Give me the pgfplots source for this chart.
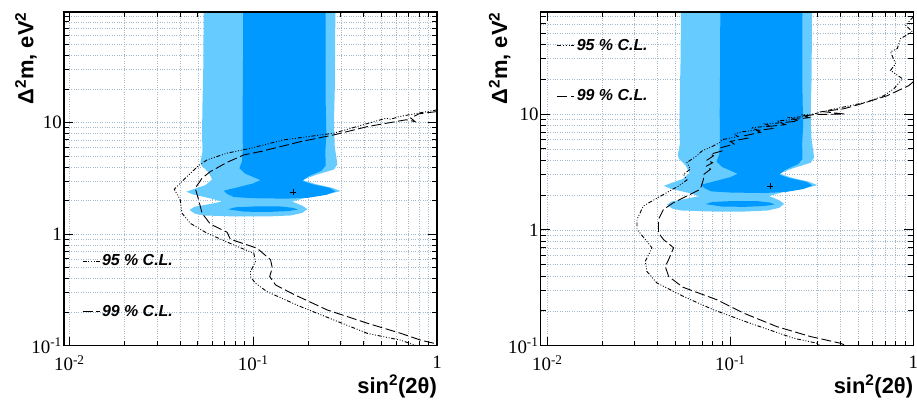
\documentclass[border=0pt]{standalone}
\usepackage{fontspec}
\setmainfont{Liberation Serif}
\newfontfamily\helv{Liberation Sans}
\usepackage{pgfplots}
\usepackage{pgfplotstable}
\pgfplotsset{compat=1.18}

\definecolor{lightreg}{RGB}{102,204,255}
\definecolor{darkreg}{RGB}{0,153,255}
\definecolor{gridc}{RGB}{165,185,205}

\pgfplotstableread{
x y
0.0538 100
0.0535 30
0.0530 15
0.0527 8
0.0530 5.5
0.0516 4.4
0.0525 4.1
0.0570 3.6
0.0598 3.1
0.0550 2.75
0.0470 2.52
0.0433 2.40
0.0470 2.27
0.0580 2.10
0.0678 1.96
0.0580 1.86
0.0480 1.76
0.0451 1.65
0.0480 1.53
0.0540 1.47
0.0800 1.44
0.1200 1.44
0.1600 1.47
0.1850 1.55
0.1970 1.68
0.1850 1.80
0.1630 1.96
0.2000 2.15
0.2600 2.30
0.2990 2.43
0.2700 2.60
0.2200 2.80
0.1850 3.06
0.2200 3.40
0.2750 3.80
0.2870 4.20
0.2850 4.63
0.2780 6
0.2750 10
0.2780 20
0.2800 100
}\lightregion

\pgfplotstableread{
x y
0.0882 100
0.0880 30
0.0875 10
0.0878 6
0.0870 4.5
0.0842 3.9
0.0900 3.5
0.1096 3.05
0.1000 2.85
0.0800 2.60
0.0692 2.45
0.0720 2.30
0.0784 2.15
0.1000 2.10
0.1500 2.08
0.2000 2.12
0.2500 2.25
0.2810 2.42
0.2600 2.60
0.2100 2.80
0.1850 3.00
0.2000 3.30
0.2350 3.70
0.2480 4.10
0.2470 5.50
0.2500 8
0.2480 15
0.2480 100
}\darkregion

\pgfplotstableread{
x y
0.0730 1.67
0.0800 1.74
0.1000 1.77
0.1400 1.77
0.1650 1.72
0.1750 1.66
0.1550 1.61
0.1200 1.58
0.0900 1.59
}\blob

\pgfplotstableread{
x y
1.0 13.0
0.80 12.2
0.62 11.3
0.56 10.7
0.53 10.95
0.40 9.6
0.275 8.04
0.1468 7.0
0.0967 5.89
0.0721 5.32
0.0561 4.63
0.0505 4.12
0.0436 3.28
0.0372 2.53
0.0401 2.03
0.0410 1.54
0.0455 1.25
0.0561 1.02
0.0784 0.80
0.1008 0.674
0.1029 0.567
0.0967 0.461
0.0967 0.416
0.1029 0.363
0.119 0.305
0.181 0.224
0.275 0.170
0.418 0.129
0.636 0.112
0.751 0.1015
0.78 0.1
}\leftA

\pgfplotstableread{
x y
1.0 12.55
0.80 12.0
0.72 11.0
0.76 10.2
0.68 10.6
0.418 9.2
0.275 7.76
0.181 6.75
0.1096 5.5
0.0889 5.13
0.0721 4.40
0.0585 3.64
0.0527 3.17
0.0484 2.58
0.0505 2.03
0.0527 1.54
0.0585 1.23
0.0721 1.04
0.0752 0.90
0.0930 0.80
0.105 0.747
0.1243 0.59
0.127 0.50
0.123 0.416
0.1325 0.35
0.1665 0.288
0.253 0.209
0.418 0.159
0.636 0.129
0.817 0.112
0.966 0.105
1.0 0.104
}\leftB

\pgfplotstableread{
x y
1.0 69
0.908 58.5
0.987 51.2
0.852 44.8
0.817 36.7
0.751 34.4
0.80 27.2
0.751 23.8
0.871 20.2
0.783 16.5
0.690 14.4
0.560 12.7
0.417 11.5
0.338 10.7
0.286 10.0
0.25 9.8
0.265 9.55
0.21 9.3
0.225 9.0
0.18 8.7
0.19 8.4
0.155 8.2
0.165 7.9
0.13 7.6
0.14 7.3
0.115 7.0
0.105 6.7
0.11 6.4
0.09 6.0
0.088 5.69
0.0777 5.15
0.070 4.8
0.0657 4.36
0.0579 3.82
0.0604 3.34
0.0555 3.02
0.058 2.7
0.0521 2.39
0.045 2.10
0.0335 1.61
0.0309 1.23
0.0309 1.01
0.0343 0.826
0.0373 0.70
0.0343 0.535
0.035 0.438
0.0397 0.348
0.0555 0.266
0.081 0.204
0.1287 0.156
0.222 0.116
0.298 0.105
0.31 0.1
}\rightA

\pgfplotstableread{
x y
1.0 19.0
0.946 17.6
0.72 14.4
0.515 12.2
0.417 11.1
0.32 10.5
0.42 10.0
0.29 9.9
0.25 9.6
0.27 9.3
0.222 9.0
0.235 8.7
0.19 8.4
0.20 8.1
0.16 7.8
0.17 7.5
0.14 7.2
0.146 6.95
0.12 6.5
0.125 6.2
0.10 5.8
0.105 5.5
0.088 5.1
0.09 4.8
0.078 4.5
0.081 4.36
0.0746 4.0
0.080 3.8
0.074 3.55
0.078 3.34
0.0714 3.0
0.0714 2.74
0.0685 2.24
0.0579 1.96
0.049 1.72
0.0431 1.50
0.0405 1.23
0.0405 0.944
0.0431 0.826
0.049 0.70
0.046 0.554
0.0441 0.484
0.046 0.397
0.055 0.32
0.0846 0.249
0.1183 0.191
0.18 0.146
0.274 0.12
0.40 0.105
0.43 0.1
}\rightB

\tikzset{
  cl95/.style={black, line width=0.9bp, dash pattern=on 4bp off 1.8bp on 0.9bp off 1.8bp on 0.9bp off 1.8bp on 0.9bp off 1.8bp},
  cl99/.style={black, line width=0.9bp, dash pattern=on 10bp off 3.5bp},
}

\begin{document}
\begin{tikzpicture}
\useasboundingbox (0,0) rectangle (917bp,401bp);

\begin{axis}[
  at={(64bp,55.3bp)}, anchor=south west,
  xmode=log, ymode=log,
  scale only axis, clip mode=individual,
  width=373bp, height=333.7bp,
  xmin=0.00935, xmax=1, ymin=0.1, ymax=98,
  axis line style={line width=1.3bp},
  grid=both,
  major grid style={gridc, dotted, line width=0.6bp},
  minor grid style={gridc, dotted, line width=0.6bp},
  tick align=inside,
  tick style={black, line width=0.8bp},
  major tick length=9bp, minor tick length=5bp,
  xtick={0.01,0.1,1},
  xticklabels={10\textsuperscript{-2},10\textsuperscript{-1},1},
  ytick={0.1,1,10},
  yticklabels={10\textsuperscript{-1},1,10},
  minor xtick={0.02,0.03,0.04,0.05,0.06,0.07,0.08,0.09,0.2,0.3,0.4,0.5,0.6,0.7,0.8,0.9},
  minor ytick={0.2,0.3,0.4,0.5,0.6,0.7,0.8,0.9,2,3,4,5,6,7,8,9,20,30,40,50,60,70,80,90},
  tick label style={font=\fontsize{19}{19}\selectfont},
  xticklabel style={inner sep=0pt, yshift=-10bp},
  yticklabel style={inner sep=0pt, xshift=-2bp},
  xlabel={\helv\bfseries sin\textsuperscript{2}(2θ)},
  ylabel={\helv\bfseries Δ\textsuperscript{2}m, eV\textsuperscript{2}},
  xlabel style={font=\fontsize{22}{22}\selectfont, at={(axis description cs:1,-0.088)}, anchor=north east, inner sep=0pt},
  ylabel style={font=\fontsize{22}{22}\selectfont, at={(axis description cs:-0.0724,1)}, anchor=south east, inner sep=0pt},
  legend style={draw=none, fill=none, inner sep=0pt,
    font=\helv\bfseries\itshape\fontsize{16}{16}\selectfont,
    row sep=34bp,
    at={(axis description cs:0.048,0.178)}, anchor=west},
  legend cell align=left,
]
\addplot[fill=lightreg, draw=none, forget plot] table {\lightregion};
\addplot[fill=darkreg, draw=none, forget plot] table {\darkregion};
\addplot[fill=darkreg, draw=none, forget plot] table {\blob};
\addplot[cl95] table {\leftA};
\addlegendentry{95 \% C.L.}
\addplot[cl99] table {\leftB};
\addlegendentry{99 \% C.L.}
\addplot[only marks, mark=+, mark size=3bp, black, mark options={line width=0.7bp}, forget plot] coordinates {(0.165,2.38)};
\draw[line width=1.3bp] (rel axis cs:0,1) -- (rel axis cs:1,1);
\end{axis}

\begin{axis}[
  at={(540.7bp,55.3bp)}, anchor=south west,
  xmode=log, ymode=log,
  scale only axis, clip mode=individual,
  width=372.6bp, height=333.7bp,
  xmin=0.0092, xmax=1, ymin=0.1, ymax=76,
  axis line style={line width=1.3bp},
  grid=both,
  major grid style={gridc, dotted, line width=0.6bp},
  minor grid style={gridc, dotted, line width=0.6bp},
  tick align=inside,
  tick style={black, line width=0.8bp},
  major tick length=9bp, minor tick length=5bp,
  xtick={0.01,0.1,1},
  xticklabels={10\textsuperscript{-2},10\textsuperscript{-1},1},
  ytick={0.1,1,10},
  yticklabels={10\textsuperscript{-1},1,10},
  minor xtick={0.02,0.03,0.04,0.05,0.06,0.07,0.08,0.09,0.2,0.3,0.4,0.5,0.6,0.7,0.8,0.9},
  minor ytick={0.2,0.3,0.4,0.5,0.6,0.7,0.8,0.9,2,3,4,5,6,7,8,9,20,30,40,50,60,70},
  tick label style={font=\fontsize{19}{19}\selectfont},
  xticklabel style={inner sep=0pt, yshift=-10bp},
  yticklabel style={inner sep=0pt, xshift=-2bp},
  xlabel={\helv\bfseries sin\textsuperscript{2}(2θ)},
  ylabel={\helv\bfseries Δ\textsuperscript{2}m, eV\textsuperscript{2}},
  xlabel style={font=\fontsize{22}{22}\selectfont, at={(axis description cs:1,-0.088)}, anchor=north east, inner sep=0pt},
  ylabel style={font=\fontsize{22}{22}\selectfont, at={(axis description cs:-0.0805,1)}, anchor=south east, inner sep=0pt},
  legend style={draw=none, fill=none, inner sep=0pt,
    font=\helv\bfseries\itshape\fontsize{16}{16}\selectfont,
    row sep=34bp,
    at={(axis description cs:0.043,0.8237)}, anchor=west},
  legend cell align=left,
]
\addplot[fill=lightreg, draw=none, forget plot] table {\lightregion};
\addplot[fill=darkreg, draw=none, forget plot] table {\darkregion};
\addplot[fill=darkreg, draw=none, forget plot] table {\blob};
\addplot[cl95] table {\rightA};
\addlegendentry{95 \% C.L.}
\addplot[cl99] table {\rightB};
\addlegendentry{99 \% C.L.}
\addplot[only marks, mark=+, mark size=3bp, black, mark options={line width=0.7bp}, forget plot] coordinates {(0.165,2.38)};
\draw[line width=1.3bp] (rel axis cs:0,1) -- (rel axis cs:1,1);
\end{axis}
\end{tikzpicture}
\end{document}
